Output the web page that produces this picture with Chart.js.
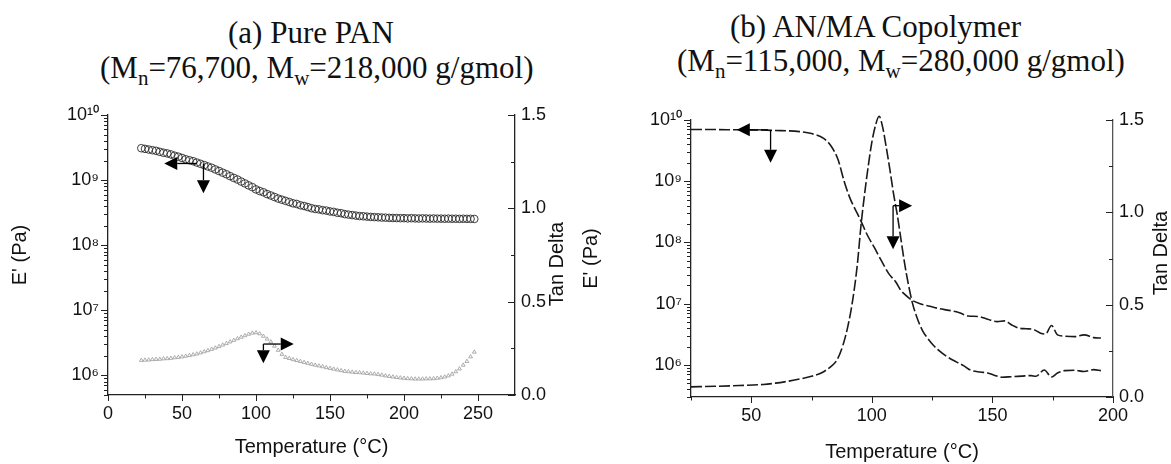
<!DOCTYPE html>
<html>
<head>
<meta charset="utf-8">
<script src="https://cdn.jsdelivr.net/npm/chart.js@4.4.0/dist/chart.umd.min.js"></script>
<style>
  html, body { margin:0; padding:0; background:#fff; }
  #wrap { position:relative; width:1171px; height:464px; overflow:hidden; background:#fff; }
  .cv { position:absolute; top:0; }
  .ttl { position:absolute; font-family:"Liberation Serif","Times New Roman",serif; font-size:31px; line-height:35px; color:#111; white-space:nowrap; }
  .ttl .sb { font-size:21px; position:relative; top:7px; }
</style>
</head>
<body>
<div id="wrap">
  <div class="ttl" style="left:228px; top:15px;">(a) Pure PAN</div>
  <div class="ttl" style="left:100px; top:50px;">(M<span class="sb">n</span>=76,700, M<span class="sb">w</span>=218,000 g/gmol)</div>
  <div class="ttl" style="left:730px; top:9px;">(b) AN/MA Copolymer</div>
  <div class="ttl" style="left:677px; top:43px;">(M<span class="sb">n</span>=115,000, M<span class="sb">w</span>=280,000 g/gmol)</div>
  <canvas id="cA" class="cv" width="575" height="464" style="left:0px;width:575px;height:464px;"></canvas>
  <canvas id="cB" class="cv" width="596" height="464" style="left:575px;width:596px;height:464px;"></canvas>
</div>
<script>
// ---------------- DATA ----------------
// (a) Pure PAN
const tempA = [22.5,25,27.5,30,32.5,35,37.5,40,42.5,45,47.5,50,52.5,55,57.5,60,62.5,65,67.5,70,72.5,75,77.5,80,82.5,85,87.5,90,92.5,95,97.5,100,102.5,105,107.5,110,112.5,115,117.5,120,122.5,125,127.5,130,132.5,135,137.5,140,142.5,145,147.5,150,152.5,155,157.5,160,162.5,165,167.5,170,172.5,175,177.5,180,182.5,185,187.5,190,192.5,195,197.5,200,202.5,205,207.5,210,212.5,215,217.5,220,222.5,225,227.5,230,232.5,235,237.5,240,242.5,245,247.5];
const modulusA = [3.09e9,3.02e9,2.95e9,2.88e9,2.82e9,2.72e9,2.63e9,2.57e9,2.48e9,2.37e9,
  2.29e9,2.19e9,2.09e9,2.02e9,1.95e9,1.86e9,1.78e9,1.70e9,1.62e9,1.55e9,
  1.46e9,1.38e9,1.30e9,1.23e9,1.15e9,1.08e9,1.02e9,9.5e8,8.9e8,8.3e8,
  7.8e8,7.2e8,6.8e8,6.5e8,6.1e8,5.8e8,5.5e8,5.2e8,5.0e8,4.8e8,
  4.6e8,4.4e8,4.3e8,4.1e8,4.0e8,3.85e8,3.7e8,3.6e8,3.55e8,3.45e8,
  3.4e8,3.3e8,3.25e8,3.15e8,3.1e8,3.0e8,2.95e8,2.9e8,2.85e8,2.8e8,
  2.78e8,2.75e8,2.72e8,2.7e8,2.68e8,2.66e8,2.65e8,2.63e8,2.62e8,2.61e8,
  2.6e8,2.6e8,2.58e8,2.6e8,2.58e8,2.57e8,2.58e8,2.57e8,2.56e8,2.57e8,
  2.56e8,2.56e8,2.55e8,2.56e8,2.55e8,2.55e8,2.54e8,2.55e8,2.54e8,2.54e8,
  2.53e8];
const tanDeltaA = [.186,.187,.188,.19,.191,.192,.194,.195,.197,.2,
  .202,.205,.208,.212,.216,.22,.226,.232,.238,.245,
  .252,.26,.268,.276,.285,.293,.302,.31,.318,.326,
  .332,.334,.328,.315,.3,.285,.262,.24,.218,.202,
  .196,.19,.185,.18,.175,.17,.165,.16,.156,.152,
  .147,.143,.139,.135,.131,.127,.125,.123,.121,.12,
  .118,.116,.114,.113,.11,.107,.103,.1,.097,.094,
  .092,.09,.088,.087,.086,.086,.086,.087,.087,.088,
  .09,.093,.097,.103,.112,.125,.14,.16,.18,.205,
  .23];

// (b) AN/MA copolymer
const tempBModulus = [25,30,40,50,60,70,75,80,83,86,88.5,91,93,95.5,98,101,104,107,110,112,114,116.5,120,124,128,132,136,140,144,148,152,155,158,161,164,167,170,172,174.5,177,180,184,188,192,195];
const modulusB = [7.0e9,7.0e9,6.95e9,6.9e9,6.75e9,6.45e9,6.0e9,5.0e9,3.8e9,2.24e9,
  1.0e9,5.2e8,3.55e8,2.24e8,1.35e8,8.3e7,5.0e7,3.1e7,2.24e7,1.66e7,
  1.38e7,1.15e7,1.0e7,9.1e6,8.3e6,7.8e6,7.2e6,6.3e6,6.2e6,5.6e6,
  5.1e6,5.25e6,4.5e6,4.0e6,3.9e6,3.8e6,3.3e6,3.2e6,4.4e6,3.1e6,
  2.95e6,2.9e6,3.1e6,2.8e6,2.75e6];
const tempBTan = [25,35,45,55,60,65,70,75,79,83,85.5,88,90,92,94,95.5,97,98.5,100,101.5,103,104.5,106,107.5,109,110.5,112,113.5,115,117,119,121,123,125.5,128,131,135,138,141,145,148,151,154,158,162,166,168,171.5,174.5,177,180,184,188,192,195];
const tanDeltaB = [0.055,0.058,0.062,0.068,0.075,0.085,0.097,0.112,0.13,0.165,
  0.2,0.28,0.38,0.52,0.72,0.93,1.1,1.25,1.38,1.47,
  1.52,1.46,1.35,1.23,1.1,0.99,0.86,0.73,0.62,0.5,
  0.42,0.36,0.32,0.28,0.25,0.22,0.19,0.17,0.145,0.135,
  0.13,0.117,0.107,0.11,0.113,0.116,0.112,0.146,0.108,0.13,
  0.143,0.145,0.138,0.148,0.143];

// tick label values
const xTicksA = [0,50,100,150,200,250];
const xTicksB = [50,100,150,200];
const modulusTicks = [1e6,1e7,1e8,1e9,1e10];
const tanTicks = [0,0.5,1.0,1.5];

// annotation arrows (data coordinates)
const arrowsA = [
  {axis:'yE', from:[60,1.8e9], to:[38,1.8e9]},
  {axis:'yE', from:[64.5,1.8e9], to:[64.5,6.3e8]},
  {axis:'yT', from:[105,0.273], to:[105,0.17]},
  {axis:'yT', from:[105,0.273], to:[125.5,0.273]}
];
const arrowsB = [
  {axis:'yE', from:[57,6.9e9], to:[44,6.9e9]},
  {axis:'yE', from:[58,6.9e9], to:[58,2.0e9]},
  {axis:'yT', from:[108.8,1.036], to:[108.8,0.8]},
  {axis:'yT', from:[108.8,1.036], to:[116.7,1.036]}
];

// ---------------- HELPERS ----------------
const SUP = {'0':'\u2070','1':'\u00B9','2':'\u00B2','3':'\u00B3','4':'\u2074','5':'\u2075','6':'\u2076','7':'\u2077','8':'\u2078','9':'\u2079'};
function powLabel(v){ const e = Math.round(Math.log10(v)); return '10' + String(e).split('').map(c=>SUP[c]).join(''); }
function pts(xs, ys){ return xs.map((x,i)=>({x:x, y:ys[i]})); }
function logMinorValues(min,max){ const out=[]; for(let e=Math.floor(Math.log10(min)); e<=Math.ceil(Math.log10(max)); e++){ for(let k=1;k<=9;k++){ const v=k*Math.pow(10,e); if(v>=min*0.999 && v<=max*1.001) out.push(v);} } return out; }
function stepValues(a,b,s){ const out=[]; for(let v=a; v<=b+1e-9; v+=s) out.push(+v.toFixed(4)); return out; }

const SANS = '"Liberation Sans", Arial, Helvetica, sans-serif';
Chart.defaults.font.family = SANS;
Chart.defaults.color = '#111';

const tickMarks = {
  id:'tickMarks',
  afterDraw(chart, args, opts){
    const ctx = chart.ctx; ctx.save(); ctx.strokeStyle = '#222'; ctx.lineWidth = 1;
    for (const s of opts.specs){
      const sc = chart.scales[s.id];
      for (const v of s.values){
        const len = s.isMajor(v) ? s.major : s.minor;
        const p = Math.round(sc.getPixelForValue(v)) + 0.5;
        ctx.beginPath();
        if (s.side==='bottom'){ ctx.moveTo(p, sc.top); ctx.lineTo(p, sc.top+len); }
        else if (s.side==='left'){ ctx.moveTo(sc.right, p); ctx.lineTo(sc.right-len, p); }
        else { ctx.moveTo(sc.left, p); ctx.lineTo(sc.left-len, p); }
        ctx.stroke();
      }
    }
    ctx.restore();
  }
};
const arrowPlugin = {
  id:'arrowPlugin',
  afterDatasetsDraw(chart, args, opts){
    const ctx = chart.ctx; const xs = chart.scales.x;
    ctx.save(); ctx.strokeStyle='#000'; ctx.fillStyle='#000'; ctx.lineWidth=1.3;
    for (const a of opts.arrows){
      const ys = chart.scales[a.axis];
      const x0 = xs.getPixelForValue(a.from[0]), y0 = ys.getPixelForValue(a.from[1]);
      const x1 = xs.getPixelForValue(a.to[0]), y1 = ys.getPixelForValue(a.to[1]);
      const ang = Math.atan2(y1-y0, x1-x0); const hl = 13, hw = 6.5;
      const bx = x1 - hl*Math.cos(ang), by = y1 - hl*Math.sin(ang);
      ctx.beginPath(); ctx.moveTo(x0,y0); ctx.lineTo(bx,by); ctx.stroke();
      ctx.beginPath(); ctx.moveTo(x1,y1);
      ctx.lineTo(bx + hw*Math.sin(ang), by - hw*Math.cos(ang));
      ctx.lineTo(bx - hw*Math.sin(ang), by + hw*Math.cos(ang));
      ctx.closePath(); ctx.fill();
    }
    ctx.restore();
  }
};
const rightTitle = {
  id:'rightTitle',
  afterDraw(chart, args, opts){
    const ctx = chart.ctx; const ca = chart.chartArea;
    ctx.save(); ctx.font = '20px ' + SANS; ctx.fillStyle = '#111';
    ctx.textAlign='center'; ctx.textBaseline='middle';
    ctx.translate(opts.x, opts.cy != null ? opts.cy : (ca.top+ca.bottom)/2);
    ctx.rotate(-Math.PI/2); ctx.fillText(opts.text, 0, 0); ctx.restore();
  }
};

function makeChart(canvasId, cfg){
  const tickFont = {family:SANS, size:18};
  const titleFont = {family:SANS, size:20};
  return new Chart(document.getElementById(canvasId), {
    type:'scatter',
    data:{ datasets: cfg.datasets },
    options:{
      responsive:false, animation:false, devicePixelRatio:1,
      layout:{ padding:{ top:cfg.top, left:0, right:0, bottom:0 } },
      plugins:{ legend:{display:false}, tooltip:{enabled:false},
        tickMarks:{ specs: cfg.tickSpecs },
        arrowPlugin:{ arrows: cfg.arrows },
        rightTitle:{ text:'Tan Delta', x: cfg.tanTitleX, cy: cfg.tanTitleY }
      },
      scales:{
        x:{ type:'linear', position:'bottom', min:cfg.xMin, max:cfg.xMax,
          afterBuildTicks(s){ s.ticks = cfg.xTicks.map(v=>({value:v})); },
          afterFit(s){ s.height = cfg.xHeight; },
          grid:{display:false, drawTicks:false}, border:{display:true, color:'#222', width:1.3},
          ticks:{ font:tickFont, color:'#111', padding:8, maxRotation:0, autoSkip:false, callback:(v)=>String(v) },
          title:{ display:true, text:'Temperature (\u00B0C)', font:titleFont, color:'#111', padding:{top:0, bottom:cfg.xTitlePad} }
        },
        yE:{ type:'logarithmic', position:'left', min:cfg.eMin, max:1e10,
          afterBuildTicks(s){ s.ticks = modulusTicks.map(v=>({value:v})); },
          afterFit(s){ s.width = cfg.leftWidth; },
          grid:{display:false, drawTicks:false}, border:{display:true, color:'#222', width:1.3},
          ticks:{ font:tickFont, color:'#111', padding:9, autoSkip:false, callback:(v)=>powLabel(v) },
          title:{ display:true, text:"E' (Pa)", font:titleFont, color:'#111', padding:{top:cfg.eTitlePad, bottom:0} }
        },
        yT:{ type:'linear', position:'right', min:0, max:1.5,
          afterBuildTicks(s){ s.ticks = tanTicks.map(v=>({value:v})); },
          afterFit(s){ s.width = cfg.rightWidth; },
          grid:{display:false, drawTicks:false}, border:{display:true, color:cfg.rightAxisColor, width:1.3},
          ticks:{ font:tickFont, color:'#111', padding:6, autoSkip:false, callback:(v)=>Number(v).toFixed(1) },
          title:{ display:false }
        }
      }
    },
    plugins:[tickMarks, arrowPlugin, rightTitle]
  });
}

// ---------------- CHART (a) ----------------
makeChart('cA', {
  top:115, xHeight:69, leftWidth:108, rightWidth:60, xMin:0, xMax:275, eMin:5e5,
  xTicks:xTicksA, xTitlePad:5, eTitlePad:8, tanTitleX:557, tanTitleY:264, rightAxisColor:'#222',
  datasets:[
    { label:"E'", data:pts(tempA, modulusA), yAxisID:'yE', showLine:false,
      pointStyle:'circle', pointRadius:3.8, borderWidth:0.9, borderColor:'#2a2a2a', backgroundColor:'rgba(0,0,0,0)' },
    { label:'Tan Delta', data:pts(tempA, tanDeltaA), yAxisID:'yT', showLine:false,
      pointStyle:'triangle', pointRadius:2.2, borderWidth:0.8, borderColor:'#9a9a9a', backgroundColor:'rgba(0,0,0,0)' }
  ],
  arrows:arrowsA,
  tickSpecs:[
    {id:'x', side:'bottom', values:stepValues(0,250,25), isMajor:v=>v%50===0, major:6, minor:3.5},
    {id:'yE', side:'left', values:logMinorValues(5e5,1e10), isMajor:v=>Math.abs(Math.log10(v)-Math.round(Math.log10(v)))<1e-6, major:7, minor:4},
    {id:'yT', side:'right', values:stepValues(0,1.5,0.25), isMajor:v=>Math.abs(v*2-Math.round(v*2))<1e-6, major:7, minor:4}
  ]
});

// ---------------- CHART (b) ----------------
makeChart('cB', {
  top:120, xHeight:67, leftWidth:116, rightWidth:58, xMin:25, xMax:200, eMin:3e5,
  xTicks:xTicksB, xTitlePad:0, eTitlePad:4, tanTitleX:586, tanTitleY:253, rightAxisColor:'#555',
  datasets:[
    { label:"E'", data:pts(tempBModulus, modulusB), yAxisID:'yE', showLine:true, pointRadius:0,
      borderColor:'#1a1a1a', borderWidth:1.6, borderDash:[11,3], cubicInterpolationMode:'monotone' },
    { label:'Tan Delta', data:pts(tempBTan, tanDeltaB), yAxisID:'yT', showLine:true, pointRadius:0, clip:8,
      borderColor:'#1a1a1a', borderWidth:1.6, borderDash:[11,3], cubicInterpolationMode:'monotone' }
  ],
  arrows:arrowsB,
  tickSpecs:[
    {id:'x', side:'bottom', values:stepValues(25,200,25), isMajor:v=>v%50===0, major:6, minor:3.5},
    {id:'yE', side:'left', values:logMinorValues(3e5,1e10), isMajor:v=>Math.abs(Math.log10(v)-Math.round(Math.log10(v)))<1e-6, major:7, minor:4},
    {id:'yT', side:'right', values:stepValues(0,1.5,0.25), isMajor:v=>Math.abs(v*2-Math.round(v*2))<1e-6, major:7, minor:4}
  ]
});
</script>
</body>
</html>
